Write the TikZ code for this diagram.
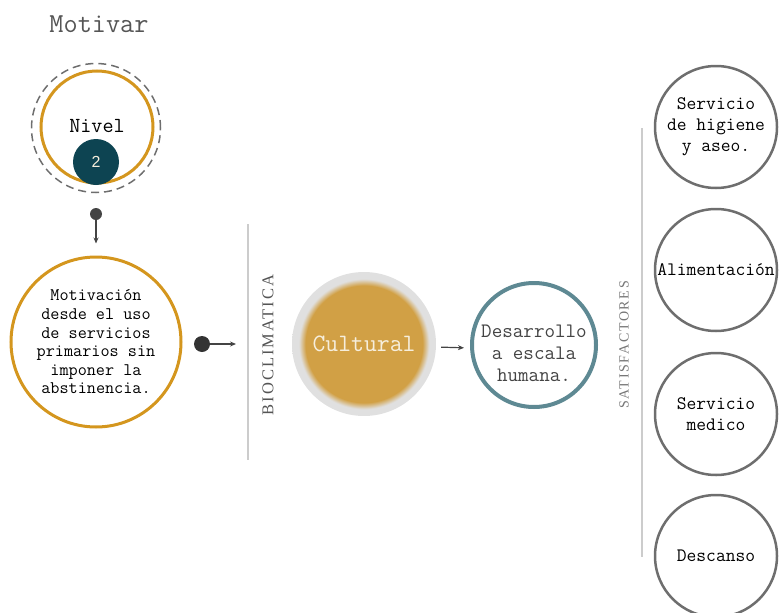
\documentclass[tikz,border=0pt]{standalone}
\usepackage{fontspec}
\newfontfamily\serifesp[LetterSpace=12]{Liberation Serif}
\newfontfamily\sansnum{Liberation Sans}
\usetikzlibrary{arrows.meta}

\definecolor{oro}{HTML}{D4961E}
\definecolor{oroclaro}{HTML}{D1A045}
\definecolor{grisaro}{HTML}{E0E0E0}
\definecolor{tealosc}{HTML}{0D4452}
\definecolor{tealgris}{HTML}{5E8993}
\definecolor{grisborde}{HTML}{6E6E6E}
\definecolor{grislinea}{HTML}{CCCCCC}
\definecolor{gristexto}{HTML}{555555}
\definecolor{punto}{HTML}{444444}
\definecolor{crema}{HTML}{F6EEDC}

\pgfdeclareradialshading{brillo}{\pgfpoint{0bp}{0bp}}{color(0bp)=(oroclaro); color(20.3bp)=(oroclaro); color(22.6bp)=(grisaro); color(50bp)=(grisaro)}

\begin{document}
\begin{tikzpicture}[x=1pt, y=-1pt, >={Stealth[length=6pt,width=5pt]},
	every node/.style={font=\ttfamily},
	nodo/.style={circle, draw=oro, line width=3pt, inner sep=0pt, align=center},
	satis/.style={circle, draw=grisborde, line width=2.5pt, minimum size=122pt, inner sep=0pt, align=center, font=\ttfamily\fontsize{19}{21}\selectfont},
	linea/.style={grislinea, line width=2pt},
	flecha/.style={->, punto, line width=1.2pt}]
	\useasboundingbox (0,0) rectangle (779,613);
	
	% 1. Motivar y nivel
	\node[text=gristexto, font=\ttfamily\fontsize{27.5}{30}\selectfont] (motivar) at (99,24) {Motivar};
	\node[circle, draw=grisborde, dashed, dash pattern=on 8pt off 5pt, line width=1.5pt, minimum size=129pt] (anillo) at (96,128) {};
	\node[nodo, minimum size=112pt, font=\ttfamily\fontsize{21.5}{24}\selectfont] (nivel) at (97,127) {\raisebox{2pt}{Nivel}};
	\node[circle, fill=tealosc, minimum size=46pt, inner sep=0pt, text=crema, font=\sansnum\fontsize{16}{16}\selectfont] (dos) at (96,162) {2};
	
	% 2. Motivacion (circulo grande) y conectores
	\node[circle, fill=punto, minimum size=12pt, inner sep=0pt] (p1) at (96,214) {};
	\node[nodo, minimum size=170pt, font=\ttfamily\fontsize{17.7}{18.6}\selectfont] (motiv) at (96,342) {Motivación\\desde el uso\\de servicios\\primarios sin\\imponer la\\abstinencia.};
	\draw[flecha, shorten >=12pt] (p1) -- (motiv);
	
	\node[circle, fill=black!80, minimum size=16pt, inner sep=0pt] (p2) at (202,344) {};
	\coordinate (l1a) at (248,224);
	\coordinate (l1m) at (248,344);
	\coordinate (l1b) at (248,460);
	\draw[flecha, shorten >=12pt] (p2) -- (l1m);
	\draw[linea] (l1a) -- (l1b);
	\node[rotate=90, text=gristexto, font=\serifesp\fontsize{16.5}{18}\selectfont] (bio) at (268,345) {BIOCLIMATICA};
	
	% 3. Cultural y desarrollo
	\node[circle, minimum size=144pt, inner sep=0pt, shading=brillo, text=crema, font=\ttfamily\fontsize{25}{28}\selectfont] (cultural) at (364,344) {Cultural};
	\node[circle, draw=tealgris, line width=4pt, minimum size=124pt] (desarrollo) at (534,345) {};
	\node[align=center, text=gristexto!80!black, font=\ttfamily\fontsize{20.5}{22}\selectfont] (desarrollotxt) at ([yshift=-8pt]desarrollo.center) {Desarrollo\\a escala\\humana.};
	\draw[flecha, shorten <=5pt, shorten >=6pt] ([yshift=-3pt]cultural.east) -- ([yshift=-3pt]desarrollo.west);
	
	% 4. Satisfactores
	\coordinate (l2a) at (642,128);
	\coordinate (l2b) at (642,557);
	\draw[linea] (l2a) -- (l2b);
	\node[rotate=90, text=gristexto!80, font=\serifesp\fontsize{14}{16}\selectfont] (satisf) at (624,345) {SATISFACTORES};
	
	\node[satis] (higiene) at (716,127) {Servicio\\de higiene\\y aseo.};
	\node[satis] (alimento) at (716,270) {Alimentación};
	\node[satis] (medico) at (716,414) {Servicio\\medico};
	\node[satis] (descanso) at (716,556) {Descanso};
	
\end{tikzpicture}
\end{document}
